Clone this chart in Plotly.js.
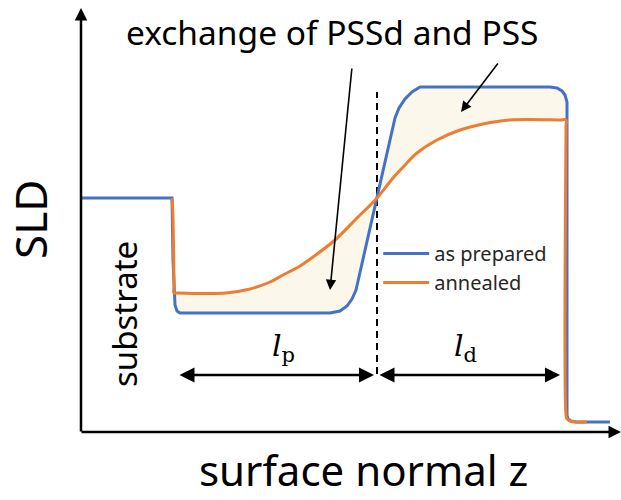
<!DOCTYPE html>
<html>
<head>
<meta charset="utf-8">
<script src="https://cdn.plot.ly/plotly-3.0.1.min.js"></script>
<style>html,body{margin:0;padding:0;background:#fff;}#chart{width:621px;height:500px;}</style>
</head>
<body>
<div id="chart"></div>
<script>
// Schematic SLD profiles (z: surface normal position, sld: scattering length density, arbitrary units)
var asPreparedZ   = [0, 91, 92, 93, 94, 96, 99, 249, 259, 266, 271, 275, 296, 314, 318, 324, 331, 339, 469, 476, 481, 484, 486, 486, 487, 490, 495, 529];
var asPreparedSLD = [234, 234, 172, 137, 127, 121, 119, 119, 121, 126, 133, 142, 234, 314, 324, 333, 340, 345, 345, 344, 341, 337, 330, 17, 13, 11, 10, 10];

var annealedZ   = [91, 91.5, 93, 93, 97, 145, 169, 189, 202, 219, 232, 254, 275, 296, 312, 324, 336, 356, 379, 402, 429, 479, 485, 485, 485, 486, 489, 494, 506];
var annealedSLD = [234, 228, 145, 139, 139, 139, 143, 150, 157, 166, 175, 192, 213, 234, 254, 267, 279, 292, 302, 308, 312, 312, 312, 306, 17, 13, 11, 10, 10];

var seriesNames = ["as prepared", "annealed"];
var seriesColors = ["#4472C4", "#ED7D31"];

var interfaceZ = 296;           // position of the PSSd/PSS interface (dashed line)
var interfaceSLD = [58, 340];
var lengthArrowSLD = 57;
var lpRange = [97, 293];
var ldRange = [297, 479];

// shaded region between the two profiles
var fillZ = asPreparedZ.slice(3, 23).concat([asPreparedZ[22]]).concat(annealedZ.slice(3, 23).reverse());
var fillSLD = asPreparedSLD.slice(3, 23).concat([annealedSLD[22]]).concat(annealedSLD.slice(3, 23).reverse());

var traces = [
  {x: fillZ, y: fillSLD, mode: 'lines', fill: 'toself', fillcolor: '#FBF7EA', line: {width: 0, shape: 'linear'}, showlegend: false, hoverinfo: 'skip'},
  {x: [interfaceZ, interfaceZ], y: interfaceSLD, mode: 'lines', line: {color: '#000', width: 2, dash: '7px,5px'}, showlegend: false, hoverinfo: 'skip'},
  {x: asPreparedZ, y: asPreparedSLD, mode: 'lines', name: seriesNames[0], line: {color: seriesColors[0], width: 3}},
  {x: annealedZ, y: annealedSLD, mode: 'lines', name: seriesNames[1], line: {color: seriesColors[1], width: 3, shape: 'spline', smoothing: 1}}
];

function arrow(x, y, ax, ay, w, s, side) {
  return {x: x, y: y, ax: ax, ay: ay, xref: 'x', yref: 'y', axref: 'x', ayref: 'y', text: '',
          showarrow: true, arrowhead: 2, arrowsize: s, arrowwidth: w, arrowcolor: '#000',
          arrowside: side || 'end', startarrowhead: 2, startarrowsize: s, standoff: 0, startstandoff: 0};
}

var annotations = [
  // axes
  arrow(0, 424, 0, -1, 2.5, 1, 'end'),
  arrow(540, 0, -1, 0, 2.5, 1, 'end'),
  // pointers
  arrow(249, 142, 271, 365, 1.6, 1.3, 'end'),
  arrow(380, 320, 418, 370, 1.6, 1.3, 'end'),
  // length arrows
  arrow(lpRange[1], lengthArrowSLD, lpRange[0], lengthArrowSLD, 2.5, 1.2, 'end+start'),
  arrow(ldRange[1], lengthArrowSLD, ldRange[0], lengthArrowSLD, 2.5, 1.2, 'end+start'),
  // texts
  {x: 251, y: 400, xref: 'x', yref: 'y', text: 'exchange of PSSd and PSS', showarrow: false, font: {family: 'Noto Sans', size: 33.5, color: '#000'}},
  {x: 202, y: 85, xref: 'x', yref: 'y', text: '<i>l</i><sub>p</sub>', showarrow: false, font: {family: 'DejaVu Serif', size: 30, color: '#000'}},
  {x: 384, y: 85, xref: 'x', yref: 'y', text: '<i>l</i><sub>d</sub>', showarrow: false, font: {family: 'DejaVu Serif', size: 30, color: '#000'}},
  {x: -51, y: 212, xref: 'x', yref: 'y', text: 'SLD', textangle: -90, showarrow: false, font: {family: 'Noto Sans', size: 44, color: '#000'}},
  {x: 43, y: 118, xref: 'x', yref: 'y', text: 'substrate', textangle: -90, showarrow: false, font: {family: 'Noto Sans', size: 33, color: '#000'}},
  {x: 282, y: -68, xref: 'x', yref: 'y', yanchor: 'bottom', text: 'surface normal z', showarrow: false, font: {family: 'Noto Sans', size: 42, color: '#000'}}
];

var layout = {
  width: 621, height: 500,
  margin: {l: 0, r: 0, t: 0, b: 0},
  paper_bgcolor: '#fff', plot_bgcolor: '#fff',
  xaxis: {range: [-81, 540], visible: false, fixedrange: true},
  yaxis: {range: [-68, 432], visible: false, fixedrange: true},
  showlegend: true,
  legend: {x: 0.609, y: 0.532, xanchor: 'left', yanchor: 'top', bgcolor: 'rgba(0,0,0,0)', itemwidth: 46,
           font: {family: 'Noto Sans', size: 20, color: '#262626'}},
  annotations: annotations
};

Plotly.newPlot('chart', traces, layout, {displayModeBar: false, staticPlot: true});
</script>
</body>
</html>
